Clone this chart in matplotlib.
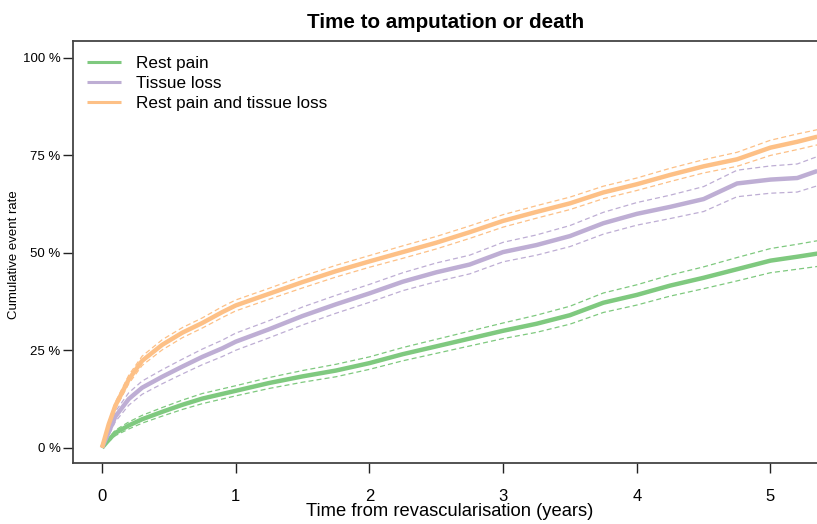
import matplotlib
matplotlib.use('Agg')
import matplotlib.pyplot as plt

plt.rcParams['font.family'] = ['Liberation Sans', 'DejaVu Sans']

# follow-up time grid (years)
years = [0, 0.05, 0.1, 0.2, 0.3, 0.45, 0.6, 0.75, 0.9, 1.0, 1.25, 1.5, 1.75, 2.0,
         2.25, 2.5, 2.75, 3.0, 3.25, 3.5, 3.75, 4.0, 4.25, 4.5, 4.75, 5.0, 5.2, 5.35]

# cumulative event rate (%) with lower / upper confidence limits
rest_est = [0, 2.0, 3.8, 5.7, 7.3, 9.2, 11.0, 12.6, 13.8, 14.6, 16.6, 18.3, 19.8, 21.7,
            24.0, 26.0, 28.0, 30.0, 31.8, 34.0, 37.2, 39.2, 41.6, 43.6, 45.8, 48.0, 49.0, 49.8]
rest_lo = [0, 1.5, 3.1, 4.8, 6.3, 8.1, 9.8, 11.3, 12.5, 13.3, 15.2, 16.8, 18.2, 20.1,
           22.3, 24.2, 26.1, 28.0, 29.6, 31.7, 34.7, 36.6, 38.9, 40.8, 42.8, 44.9, 45.8, 46.5]
rest_hi = [0, 2.5, 4.5, 6.6, 8.3, 10.3, 12.2, 13.9, 15.1, 15.9, 18.0, 19.8, 21.4, 23.3,
           25.7, 27.8, 29.9, 32.0, 34.0, 36.3, 39.7, 41.8, 44.3, 46.4, 48.8, 51.1, 52.2, 53.1]

tissue_est = [0, 4.0, 8.0, 12.5, 15.4, 18.2, 20.8, 23.3, 25.5, 27.2, 30.4, 33.8, 36.8, 39.6,
              42.6, 45.0, 47.0, 50.2, 52.0, 54.3, 57.6, 60.0, 61.8, 63.8, 67.8, 68.8, 69.2, 71.0]
tissue_lo = [0, 3.1, 6.7, 10.9, 13.7, 16.4, 18.9, 21.3, 23.4, 25.0, 28.2, 31.5, 34.5, 37.3,
             40.3, 42.6, 44.6, 47.7, 49.4, 51.6, 54.8, 57.1, 58.8, 60.6, 64.4, 65.3, 65.6, 67.2]
tissue_hi = [0, 4.9, 9.3, 14.1, 17.1, 20.0, 22.7, 25.3, 27.6, 29.4, 32.6, 36.1, 39.1, 41.9,
             44.9, 47.4, 49.4, 52.7, 54.6, 57.0, 60.4, 62.9, 64.8, 67.0, 71.2, 72.3, 72.8, 74.7]

both_est = [0, 6.0, 10.8, 17.5, 22.3, 26.4, 29.5, 32.0, 34.8, 36.5, 39.5, 42.5, 45.3, 47.8,
            50.2, 52.6, 55.3, 58.2, 60.5, 62.7, 65.5, 67.6, 70.0, 72.2, 74.0, 77.0, 78.5, 79.8]
both_lo = [0, 5.3, 9.9, 16.4, 21.1, 25.1, 28.2, 30.7, 33.4, 35.1, 38.1, 41.0, 43.8, 46.3,
           48.6, 51.0, 53.7, 56.6, 58.9, 61.1, 63.9, 66.0, 68.3, 70.5, 72.2, 75.0, 76.5, 77.7]
both_hi = [0, 6.7, 11.7, 18.6, 23.5, 27.7, 30.8, 33.3, 36.2, 37.9, 40.9, 44.0, 46.8, 49.3,
           51.8, 54.2, 56.9, 59.8, 62.1, 64.3, 67.1, 69.2, 71.7, 73.9, 75.8, 78.9, 80.5, 81.6]

groups = ['Rest pain', 'Tissue loss', 'Rest pain and tissue loss']
colors = ['#7fc97f', '#beaed4', '#fdc086']
curves = [(rest_est, rest_lo, rest_hi),
          (tissue_est, tissue_lo, tissue_hi),
          (both_est, both_lo, both_hi)]

x_ticks = [0, 1, 2, 3, 4, 5]
y_ticks = [0, 25, 50, 75, 100]
y_ticklabels = ['0 %', '25 %', '50 %', '75 %', '100 %']

W, H = 817, 524
fig = plt.figure(figsize=(W / 100, H / 100), dpi=100)
ax = fig.add_axes([73 / W, (H - 462.7) / H, 744 / W, (462.7 - 41) / H])

for (est, lo, hi), col, name in zip(curves, colors, groups):
    ax.plot(years, lo, color=col, lw=0.9, dashes=(4, 2.5))
    ax.plot(years, hi, color=col, lw=0.9, dashes=(4, 2.5))
    ax.plot(years, est, color=col, lw=3.2, label=name, solid_capstyle='butt')

ax.set_xlim(-0.217, 5.348)
ax.set_ylim(-3.85, 104.36)

ax.set_xticks(x_ticks)
ax.set_xticklabels([str(v) for v in x_ticks])
ax.set_yticks(y_ticks)
ax.set_yticklabels(y_ticklabels)
ax.tick_params(axis='x', length=7, width=1, color='#222222', labelsize=12, pad=12)
ax.tick_params(axis='y', length=7, width=1, color='#222222', labelsize=9.5, pad=2)

ax.spines['right'].set_visible(False)
for s in ['left', 'top', 'bottom']:
    ax.spines[s].set_color('#444444')
    ax.spines[s].set_linewidth(1.3)

leg = ax.legend(loc='upper left', bbox_to_anchor=(80 / W, 1 - 49 / H),
                bbox_transform=fig.transFigure, frameon=False, fontsize=12.3,
                handlelength=2.0, handletextpad=0.9, labelspacing=0.3,
                borderaxespad=0)
for line in leg.get_lines():
    line.set_linewidth(2.2)

fig.text(446 / W, 1 - 28 / H, 'Time to amputation or death', ha='center', va='baseline',
         fontsize=14.9, fontweight='bold')
fig.text(450 / W, 1 - 516 / H, 'Time from revascularisation (years)', ha='center',
         va='baseline', fontsize=13.2)
fig.text(14 / W, 1 - 255 / H, 'Cumulative event rate', ha='center', va='center',
         rotation=90, fontsize=9.5)

fig.savefig('out.png', dpi=100)
